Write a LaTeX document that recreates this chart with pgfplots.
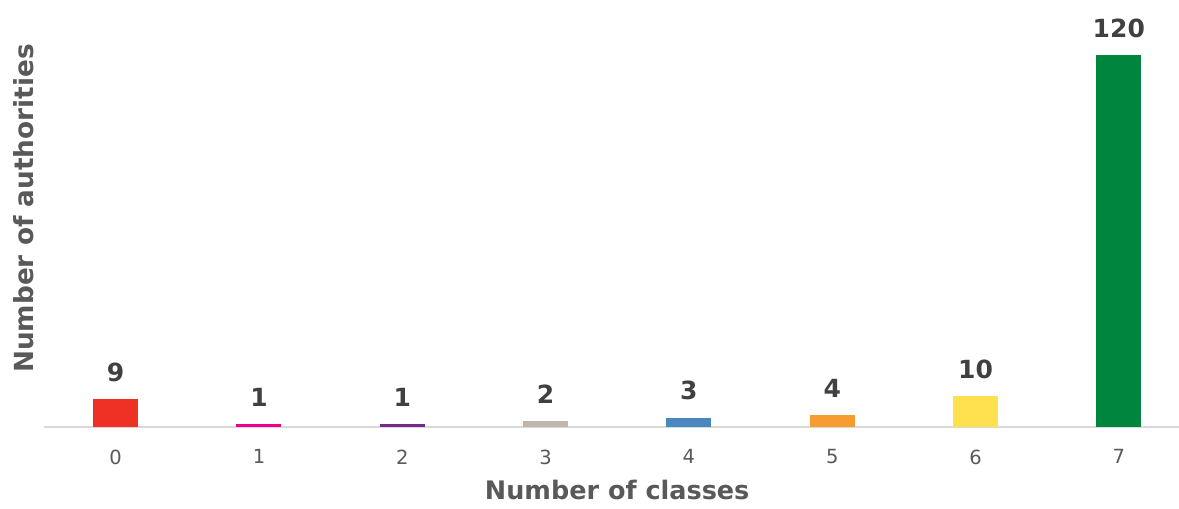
\documentclass[border=0pt]{standalone}
\usepackage{pgfplots}
\pgfplotsset{compat=1.18}
\usepackage{fontspec}
\setmainfont{DejaVu Sans}
\definecolor{txtgray}{HTML}{595959}
\definecolor{lblgray}{HTML}{404040}
\definecolor{axgray}{HTML}{D9D9D9}
\definecolor{c0}{HTML}{EE3124}
\definecolor{c1}{HTML}{EC008C}
\definecolor{c2}{HTML}{742A86}
\definecolor{c3}{HTML}{BFB7AE}
\definecolor{c4}{HTML}{4A87BE}
\definecolor{c5}{HTML}{F79C2F}
\definecolor{c6}{HTML}{FFE150}
\definecolor{c7}{HTML}{00853E}
\begin{document}
\begin{tikzpicture}
\useasboundingbox (-44pt,-82pt) rectangle (1135pt,427pt);
\begin{axis}[
  scale only axis,
  width=1135pt, height=403pt,
  xmin=-0.5, xmax=7.42,
  ymin=0, ymax=130,
  clip=false,
  axis y line*=left,
  y axis line style={draw=none},
  ytick=\empty,
  axis x line*=bottom,
  x axis line style={-, draw=axgray, line width=2pt},
  xtick={0,1,2,3,4,5,6,7},
  xticklabels={0,1,2,3,4,5,6,7},
  major tick length=0pt,
  /pgf/number format/assume math mode=true,
  xticklabel style={text=txtgray, font=\fontsize{19.5}{22}\selectfont, yshift=-19pt},
  xlabel={Number of classes},
  xlabel style={at={(axis description cs:0.505,-0.156)}, anchor=center,
    text=txtgray, font=\fontsize{25.5}{28}\selectfont\bfseries},
  ylabel={Number of authorities},
  ylabel style={at={(axis description cs:-0.018,0.542)}, anchor=center, rotate=0,
    text=txtgray, font=\fontsize{26.3}{28}\selectfont\bfseries},
  ybar, bar width=45pt, bar shift=0pt,
  nodes near coords,
  every node near coord/.append style={text=lblgray, yshift=14pt,
    font=\fontsize{25}{28}\selectfont\bfseries},
]
\addplot[fill=c0, draw=none] coordinates {(0,9)};
\addplot[fill=c1, draw=none] coordinates {(1,1)};
\addplot[fill=c2, draw=none] coordinates {(2,1)};
\addplot[fill=c3, draw=none] coordinates {(3,2)};
\addplot[fill=c4, draw=none] coordinates {(4,3)};
\addplot[fill=c5, draw=none] coordinates {(5,4)};
\addplot[fill=c6, draw=none] coordinates {(6,10)};
\addplot[fill=c7, draw=none] coordinates {(7,120)};
\end{axis}
\end{tikzpicture}
\end{document}
